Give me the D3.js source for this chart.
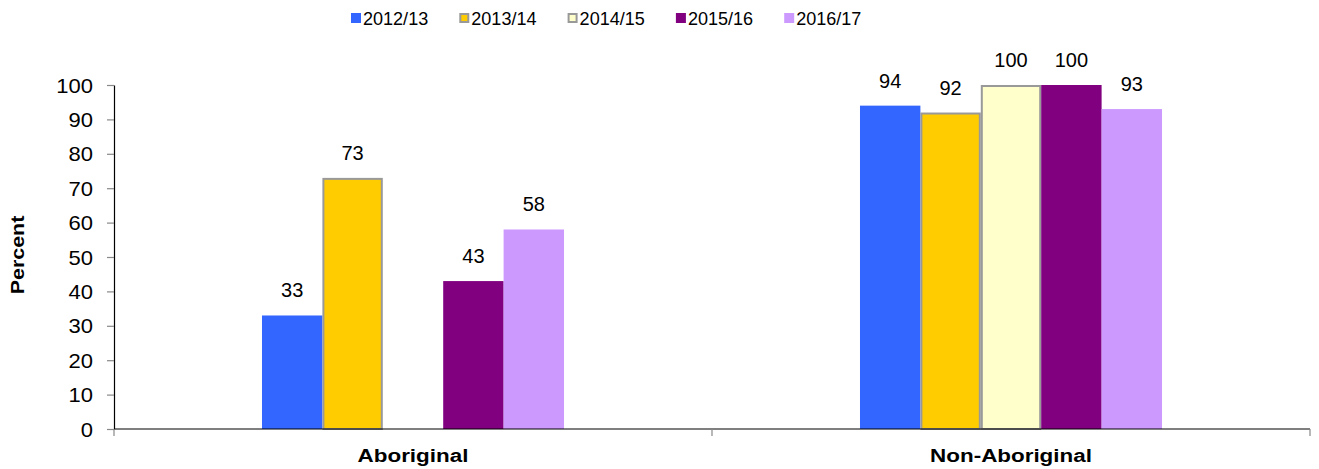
<!DOCTYPE html>
<html>
<head>
<meta charset="utf-8">
<script src="https://cdn.jsdelivr.net/npm/d3@7"></script>
<style>
  body { margin: 0; background: #fff; }
  text { font-family: "Liberation Sans", Arial, sans-serif; fill: #000; }
</style>
</head>
<body>
<div id="chart"></div>
<script>
// chart data
const categories = ["Aboriginal", "Non-Aboriginal"];
const years = ["2012/13", "2013/14", "2014/15", "2015/16", "2016/17"];
const aboriginal = [33, 73, null, 43, 58];
const nonAboriginal = [94, 92, 100, 100, 93];
const yTicks = [0, 10, 20, 30, 40, 50, 60, 70, 80, 90, 100];

const colors = ["#3366FF", "#FFCC00", "#FFFFCC", "#800080", "#CC99FF"];
const strokes = [null, "#999999", "#999999", null, null];

const seriesByCat = [aboriginal, nonAboriginal];

const W = 1319, H = 469;
const margin = { top: 85, right: 9, bottom: 40, left: 114 };
const width = W - margin.left - margin.right;
const height = H - margin.top - margin.bottom;

const svg = d3.select("#chart").append("svg")
    .attr("width", W)
    .attr("height", H);

const g = svg.append("g")
    .attr("transform", `translate(${margin.left},${margin.top})`);

const x0 = d3.scaleBand().domain(categories).range([0, width]).padding(0);
const x1 = d3.scaleBand().domain(years).range([0, x0.bandwidth()])
    .paddingInner(0).paddingOuter(2.45);
const y = d3.scaleLinear().domain([0, 100]).range([height, 0]);

// bars
const groups = g.selectAll(".group")
    .data(categories)
    .enter().append("g")
    .attr("class", "group")
    .attr("transform", d => `translate(${x0(d)},0)`);

groups.each(function(cat, ci) {
    const rows = years.map((yr, i) => ({ yr, i, v: seriesByCat[ci][i] }))
        .filter(d => d.v !== null);
    const grp = d3.select(this);

    grp.selectAll("rect")
        .data(rows)
        .enter().append("rect")
        .attr("x", d => x1(d.yr) + (strokes[d.i] ? 1 : 0))
        .attr("y", d => y(d.v) + (strokes[d.i] ? 1 : 0))
        .attr("width", d => x1.bandwidth() - (strokes[d.i] ? 2 : 0))
        .attr("height", d => y(0) - y(d.v) - (strokes[d.i] ? 1 : 0))
        .attr("fill", d => colors[d.i])
        .attr("stroke", d => strokes[d.i] || "none")
        .attr("stroke-width", 2);

    grp.selectAll("text.val")
        .data(rows)
        .enter().append("text")
        .attr("class", "val")
        .attr("text-anchor", "middle")
        .style("font-size", "20px")
        .attr("x", d => x1(d.yr) + x1.bandwidth() / 2)
        .attr("y", d => y(d.v) - 18)
        .text(d => d.v);
});

// y axis
const yAxis = g.append("g")
    .call(d3.axisLeft(y).tickValues(yTicks).tickSize(7).tickSizeOuter(0));
yAxis.select(".domain").attr("stroke", "#000").attr("stroke-width", 1.2);
yAxis.selectAll(".tick line").attr("stroke", "#888").attr("stroke-width", 1.2);
yAxis.selectAll(".tick text")
    .attr("x", -21 / 1.1)
    .attr("dy", "0.35em")
    .attr("transform", "scale(1.1,1)")
    .style("font-size", "20px")
    .style("font-family", "'Liberation Sans', Arial, sans-serif")
    .attr("fill", "#000");

// x axis: ticks at category boundaries
const xAxis = g.append("g")
    .attr("transform", `translate(0,${height})`);
xAxis.append("line")
    .attr("x1", 0).attr("x2", width)
    .attr("stroke", "#000").attr("stroke-width", 1.2);
xAxis.selectAll("line.tk")
    .data(categories.concat(["end"]))
    .enter().append("line")
    .attr("class", "tk")
    .attr("x1", (d, i) => i < categories.length ? x0(d) : width)
    .attr("x2", (d, i) => i < categories.length ? x0(d) : width)
    .attr("y1", 0).attr("y2", 7)
    .attr("stroke", "#888").attr("stroke-width", 1.2);
xAxis.selectAll("text.cat")
    .data(categories)
    .enter().append("text")
    .attr("class", "cat")
    .attr("text-anchor", "middle")
    .style("font-size", "19px")
    .style("font-weight", "bold")
    .attr("transform", d => `translate(${x0(d) + x0.bandwidth() / 2},33) scale(1.18,1)`)
    .text(d => d);

// y axis title
g.append("text")
    .attr("text-anchor", "middle")
    .style("font-size", "19px")
    .style("font-weight", "bold")
    .attr("transform", `translate(-90,${height / 2 - 2}) rotate(-90) scale(1.13,1)`)
    .text("Percent");

// legend
const legend = svg.append("g").attr("transform", "translate(351,0)");
const item = legend.selectAll(".item")
    .data(years)
    .enter().append("g")
    .attr("class", "item")
    .attr("transform", (d, i) => `translate(${i * 108.3},0)`);
item.append("rect")
    .attr("x", d => strokes[years.indexOf(d)] ? 1 : 0)
    .attr("y", d => strokes[years.indexOf(d)] ? 14 : 13)
    .attr("width", d => strokes[years.indexOf(d)] ? 8 : 10)
    .attr("height", d => strokes[years.indexOf(d)] ? 8 : 10)
    .attr("fill", (d, i) => colors[i])
    .attr("stroke", (d, i) => strokes[i] || "none")
    .attr("stroke-width", 2);
item.append("text")
    .attr("transform", "translate(12,25) scale(0.95,1)")
    .style("font-size", "19px")
    .text(d => d);
</script>
</body>
</html>
